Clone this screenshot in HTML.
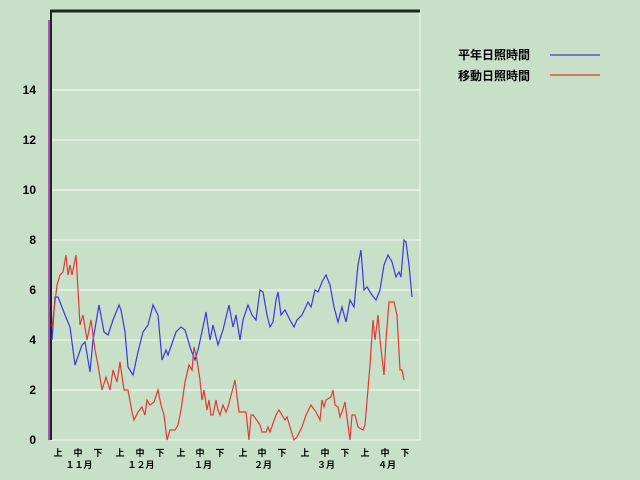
<!DOCTYPE html>
<html><head><meta charset="utf-8"><style>
html,body{margin:0;padding:0;background:#c8dfc8;}
svg{display:block}
text{font-family:"Liberation Sans","Noto Sans CJK JP",sans-serif;font-weight:bold;fill:#000}
</style></head><body>
<svg width="640" height="480" viewBox="0 0 640 480" xmlns="http://www.w3.org/2000/svg">
<rect width="640" height="480" fill="#c8dfc8"/>
<g stroke="#e6f2e6" stroke-width="1.5">
<line x1="50" y1="390" x2="420" y2="390"/><line x1="50" y1="340" x2="420" y2="340"/>
<line x1="50" y1="290" x2="420" y2="290"/><line x1="50" y1="240" x2="420" y2="240"/>
<line x1="50" y1="190" x2="420" y2="190"/><line x1="50" y1="140" x2="420" y2="140"/>
<line x1="50" y1="90" x2="420" y2="90"/><line x1="50" y1="440" x2="420" y2="440"/>
<line x1="420" y1="11" x2="420" y2="440"/>
</g>
<line x1="50" y1="11" x2="420" y2="11" stroke="#1a2a1a" stroke-width="3"/>
<line x1="51" y1="11" x2="51" y2="440" stroke="#1a2a1a" stroke-width="2"/>
<line x1="49" y1="20" x2="49" y2="440" stroke="#b050c0" stroke-width="2"/>
<g font-size="12" text-anchor="end">
<text x="36" y="444">0</text><text x="36" y="394">2</text><text x="36" y="344">4</text>
<text x="36" y="294">6</text><text x="36" y="244">8</text><text x="36" y="194">10</text>
<text x="36" y="144">12</text><text x="36" y="94">14</text>
</g>
<g font-size="9" text-anchor="middle">
<text x="58" y="456">上</text><text x="78" y="456">中</text><text x="98" y="456">下</text>
<text x="120" y="456">上</text><text x="140" y="456">中</text><text x="160" y="456">下</text>
<text x="181" y="456">上</text><text x="200" y="456">中</text><text x="220" y="456">下</text>
<text x="243" y="456">上</text><text x="262" y="456">中</text><text x="282" y="456">下</text>
<text x="305" y="456">上</text><text x="325" y="456">中</text><text x="345" y="456">下</text>
<text x="365" y="456">上</text><text x="385" y="456">中</text><text x="405" y="456">下</text>
<text x="79" y="468">１１月</text><text x="141" y="468">１２月</text><text x="203" y="468">１月</text>
<text x="263" y="468">２月</text><text x="326" y="468">３月</text><text x="387" y="468">４月</text>
</g>
<polyline fill="none" stroke="#3a3ae0" stroke-width="1.2" points="52,340 55,297 58,297 65,315 70,327 75,365 82,345 85,342 90,372 93,340 99,305 104,332 108,335 113,320 119,305 121,310 125,332 128,367 133,375 138,352 143,332 148,325 153,305 158,315 162,360 166,350 168,355 176,332 181,327 185,330 191,350 195,360 198,350 203,327 206,312 210,340 213,325 218,345 223,330 229,305 233,327 236,315 240,340 243,320 248,305 252,315 256,320 260,290 263,292 267,315 270,327 273,322 276,300 278,292 281,315 285,310 290,320 294,327 297,320 302,315 308,302 311,307 315,290 318,292 322,282 326,275 330,285 334,307 338,322 342,307 346,322 350,300 354,307 358,265 361,250 364,290 367,287 372,295 376,300 380,290 384,265 388,255 392,262 396,277 399,272 401,277 404,240 406,242 409,265 412,297"/>
<polyline fill="none" stroke="#e03a3a" stroke-width="1.2" points="52,327 57,285 60,275 63,272 66,255 68,275 70,265 72,275 76,255 80,325 83,315 87,340 91,320 95,350 98,365 102,390 106,377 110,390 113,370 117,382 120,362 124,390 128,390 132,412 134,420 138,412 142,407 145,415 147,400 150,405 154,402 158,390 161,405 164,415 167,440 170,430 175,430 178,425 181,410 185,382 189,365 192,370 194,347 197,360 200,380 202,400 204,390 207,410 209,400 211,415 213,415 216,400 218,410 220,415 223,405 226,412 228,407 235,380 239,412 246,412 249,440 251,415 253,415 258,422 260,425 262,432 266,432 268,427 270,432 276,415 279,410 285,420 287,417 290,427 294,440 297,437 302,427 306,415 311,405 316,412 320,420 322,400 324,407 326,400 331,397 333,390 335,405 338,407 340,417 342,412 345,402 350,440 352,415 355,415 358,427 363,430 365,425 370,365 373,320 375,340 378,315 380,340 384,375 386,340 389,302 394,302 397,315 400,370 402,370 404,380"/>
<g font-size="12">
<text x="458" y="59">平年日照時間</text><text x="458" y="80">移動日照時間</text>
</g>
<line x1="550" y1="55" x2="600" y2="55" stroke="#3a3ae0" stroke-width="1.2"/>
<line x1="550" y1="75" x2="600" y2="75" stroke="#e03a3a" stroke-width="1.2"/>
</svg>
</body></html>
